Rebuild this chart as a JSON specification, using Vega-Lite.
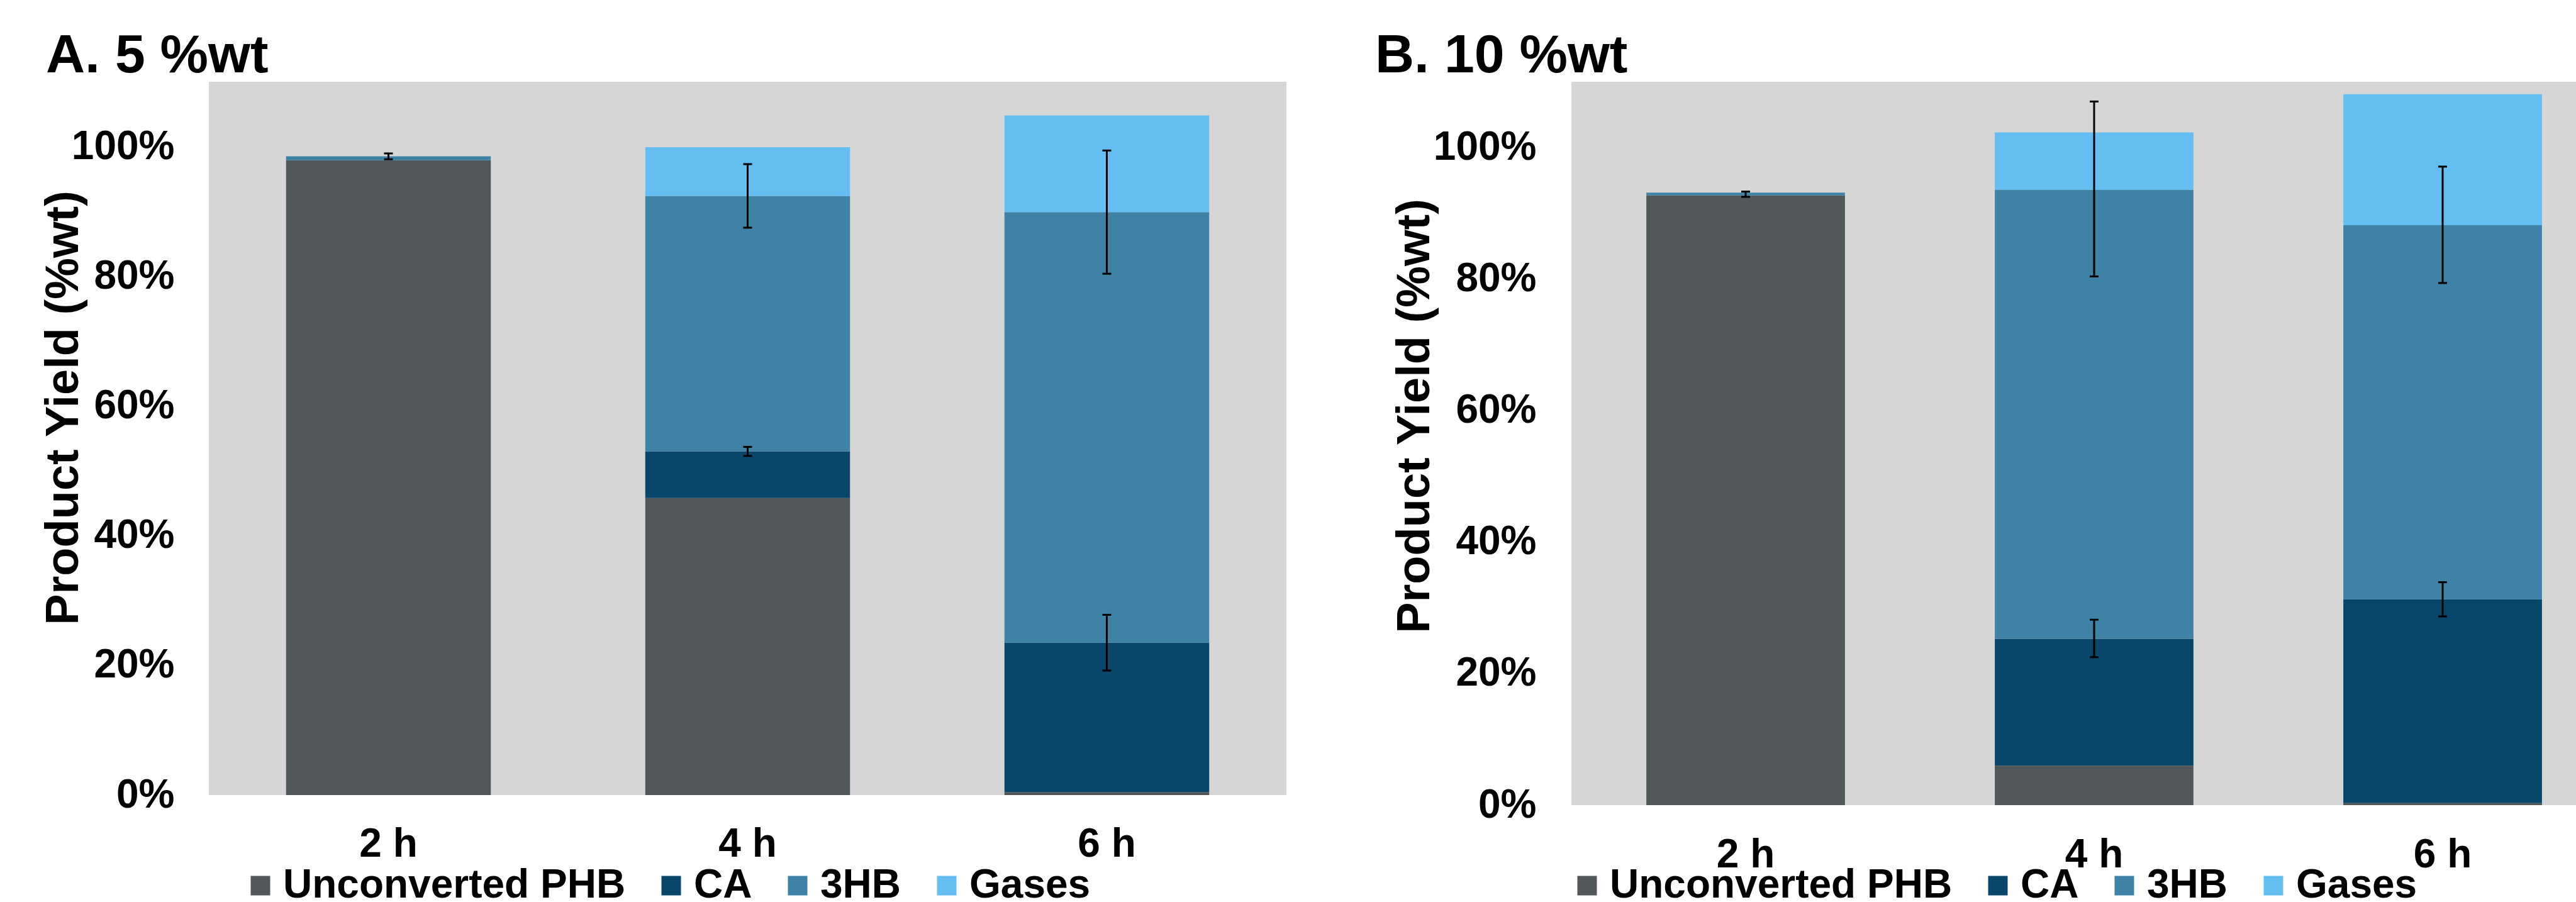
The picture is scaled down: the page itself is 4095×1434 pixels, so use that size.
{
  "$schema": "https://vega.github.io/schema/vega-lite/v6.json",
  "background": "white",
  "padding": {"left": 63, "top": 46, "right": 0, "bottom": 0},
  "bounds": "flush",
  "spacing": 453,
  "datasets": {
    "bars": [
      {"panel": "A", "time": "2 h", "series": "Unconverted PHB", "value": 0.979},
      {"panel": "A", "time": "2 h", "series": "CA", "value": 0.0},
      {"panel": "A", "time": "2 h", "series": "3HB", "value": 0.006},
      {"panel": "A", "time": "2 h", "series": "Gases", "value": 0.0},
      {"panel": "A", "time": "4 h", "series": "Unconverted PHB", "value": 0.458},
      {"panel": "A", "time": "4 h", "series": "CA", "value": 0.072},
      {"panel": "A", "time": "4 h", "series": "3HB", "value": 0.394},
      {"panel": "A", "time": "4 h", "series": "Gases", "value": 0.075},
      {"panel": "A", "time": "6 h", "series": "Unconverted PHB", "value": 0.0045},
      {"panel": "A", "time": "6 h", "series": "CA", "value": 0.2305},
      {"panel": "A", "time": "6 h", "series": "3HB", "value": 0.664},
      {"panel": "A", "time": "6 h", "series": "Gases", "value": 0.149},
      {"panel": "B", "time": "2 h", "series": "Unconverted PHB", "value": 0.927},
      {"panel": "B", "time": "2 h", "series": "CA", "value": 0.0},
      {"panel": "B", "time": "2 h", "series": "3HB", "value": 0.0045},
      {"panel": "B", "time": "2 h", "series": "Gases", "value": 0.0},
      {"panel": "B", "time": "4 h", "series": "Unconverted PHB", "value": 0.06},
      {"panel": "B", "time": "4 h", "series": "CA", "value": 0.193},
      {"panel": "B", "time": "4 h", "series": "3HB", "value": 0.683},
      {"panel": "B", "time": "4 h", "series": "Gases", "value": 0.087},
      {"panel": "B", "time": "6 h", "series": "Unconverted PHB", "value": 0.003},
      {"panel": "B", "time": "6 h", "series": "CA", "value": 0.31},
      {"panel": "B", "time": "6 h", "series": "3HB", "value": 0.569},
      {"panel": "B", "time": "6 h", "series": "Gases", "value": 0.199}
    ],
    "errs": [
      {"panel": "A", "time": "2 h", "low": 0.9805, "high": 0.9895},
      {"panel": "A", "time": "4 h", "low": 0.523, "high": 0.537},
      {"panel": "A", "time": "4 h", "low": 0.875, "high": 0.973},
      {"panel": "A", "time": "6 h", "low": 0.192, "high": 0.278},
      {"panel": "A", "time": "6 h", "low": 0.804, "high": 0.994},
      {"panel": "B", "time": "2 h", "low": 0.925, "high": 0.933},
      {"panel": "B", "time": "4 h", "low": 0.225, "high": 0.282},
      {"panel": "B", "time": "4 h", "low": 0.804, "high": 1.07},
      {"panel": "B", "time": "6 h", "low": 0.287, "high": 0.339},
      {"panel": "B", "time": "6 h", "low": 0.794, "high": 0.971}
    ]
  },
  "config": {
    "font": "Liberation Sans",
    "view": {"fill": "#d6d6d6", "stroke": null},
    "axis": {"labelColor": "black", "titleColor": "black", "labelFontWeight": "bold", "titleFontWeight": "bold", "labelFontSize": 64, "titleFontSize": 74, "ticks": false, "tickSize": 0, "domain": false, "grid": false, "labelLimit": 600, "titleLimit": 2000}
  },
  "hconcat": [
    {
      "title": {"text": "A. 5 %wt", "anchor": "start", "frame": "group", "dx": -259, "offset": -71, "baseline": "alphabetic", "fontSize": 86, "fontWeight": "bold", "color": "black"},
      "width": 1713,
      "height": 1134,
      "layer": [
        {
          "data": {"name": "bars"},
          "transform": [
            {"filter": "datum.panel == 'A'"},
            {"calculate": "indexof(['Unconverted PHB','CA','3HB','Gases'], datum.series)", "as": "ord"}
          ],
          "mark": {"type": "bar"},
          "encoding": {
            "x": {"field": "time", "type": "nominal", "sort": null, "scale": {"paddingInner": 0.43, "paddingOuter": 0.215}, "axis": {"title": null, "labelAngle": 0, "labelPadding": 46}},
            "y": {"field": "value", "type": "quantitative", "stack": "zero", "scale": {"domain": [0, 1.1], "nice": false}, "axis": {"title": "Product Yield (%wt)", "values": [0, 0.2, 0.4, 0.6, 0.8, 1.0], "format": ".0%", "labelPadding": 55, "titleX": -209, "titleY": 518, "titleBaseline": "alphabetic", "titleAngle": -90, "titleAlign": "center"}},
            "color": {"field": "series", "type": "nominal", "scale": {"domain": ["Unconverted PHB", "CA", "3HB", "Gases"], "range": ["#52575a", "#08466a", "#3e83a5", "#64bef2"]}, "legend": {"orient": "none", "legendX": 50, "legendY": 1246, "direction": "horizontal", "title": null, "symbolType": "square", "symbolSize": 961, "symbolStrokeWidth": 0, "symbolOpacity": 1, "labelFontSize": 64, "labelFontWeight": "bold", "labelColor": "black", "labelOffset": 4, "columnPadding": 40, "labelLimit": 1000}},
            "order": {"field": "ord", "type": "quantitative"}
          }
        },
        {
          "data": {"name": "errs"},
          "transform": [{"filter": "datum.panel == 'A'"}],
          "mark": {"type": "rule", "color": "black", "strokeWidth": 3},
          "encoding": {
            "x": {"field": "time", "type": "nominal", "sort": null},
            "y": {"field": "low", "type": "quantitative"},
            "y2": {"field": "high"}
          }
        },
        {
          "data": {"name": "errs"},
          "transform": [{"filter": "datum.panel == 'A'"}],
          "mark": {"type": "tick", "color": "black", "thickness": 3, "size": 14, "opacity": 1},
          "encoding": {
            "x": {"field": "time", "type": "nominal", "sort": null},
            "y": {"field": "low", "type": "quantitative"}
          }
        },
        {
          "data": {"name": "errs"},
          "transform": [{"filter": "datum.panel == 'A'"}],
          "mark": {"type": "tick", "color": "black", "thickness": 3, "size": 14, "opacity": 1},
          "encoding": {
            "x": {"field": "time", "type": "nominal", "sort": null},
            "y": {"field": "high", "type": "quantitative"}
          }
        }
      ]
    },
    {
      "title": {"text": "B. 10 %wt", "anchor": "start", "frame": "group", "dx": -312, "offset": -71, "baseline": "alphabetic", "fontSize": 86, "fontWeight": "bold", "color": "black"},
      "width": 1662,
      "height": 1150,
      "layer": [
        {
          "data": {"name": "bars"},
          "transform": [
            {"filter": "datum.panel == 'B'"},
            {"calculate": "indexof(['Unconverted PHB','CA','3HB','Gases'], datum.series)", "as": "ord"}
          ],
          "mark": {"type": "bar"},
          "encoding": {
            "x": {"field": "time", "type": "nominal", "sort": null, "scale": {"paddingInner": 0.43, "paddingOuter": 0.215}, "axis": {"title": null, "labelAngle": 0, "labelPadding": 47}},
            "y": {"field": "value", "type": "quantitative", "stack": "zero", "scale": {"domain": [0, 1.1], "nice": false}, "axis": {"title": "Product Yield (%wt)", "values": [0, 0.2, 0.4, 0.6, 0.8, 1.0], "format": ".0%", "labelPadding": 56, "titleX": -227, "titleY": 531, "titleBaseline": "alphabetic", "titleAngle": -90, "titleAlign": "center"}},
            "color": {"field": "series", "type": "nominal", "scale": {"domain": ["Unconverted PHB", "CA", "3HB", "Gases"], "range": ["#52575a", "#08466a", "#3e83a5", "#64bef2"]}, "legend": {"orient": "none", "legendX": -7, "legendY": 1246, "direction": "horizontal", "title": null, "symbolType": "square", "symbolSize": 961, "symbolStrokeWidth": 0, "symbolOpacity": 1, "labelFontSize": 64, "labelFontWeight": "bold", "labelColor": "black", "labelOffset": 4, "columnPadding": 40, "labelLimit": 1000}},
            "order": {"field": "ord", "type": "quantitative"}
          }
        },
        {
          "data": {"name": "errs"},
          "transform": [{"filter": "datum.panel == 'B'"}],
          "mark": {"type": "rule", "color": "black", "strokeWidth": 3},
          "encoding": {
            "x": {"field": "time", "type": "nominal", "sort": null},
            "y": {"field": "low", "type": "quantitative"},
            "y2": {"field": "high"}
          }
        },
        {
          "data": {"name": "errs"},
          "transform": [{"filter": "datum.panel == 'B'"}],
          "mark": {"type": "tick", "color": "black", "thickness": 3, "size": 14, "opacity": 1},
          "encoding": {
            "x": {"field": "time", "type": "nominal", "sort": null},
            "y": {"field": "low", "type": "quantitative"}
          }
        },
        {
          "data": {"name": "errs"},
          "transform": [{"filter": "datum.panel == 'B'"}],
          "mark": {"type": "tick", "color": "black", "thickness": 3, "size": 14, "opacity": 1},
          "encoding": {
            "x": {"field": "time", "type": "nominal", "sort": null},
            "y": {"field": "high", "type": "quantitative"}
          }
        }
      ]
    }
  ],
  "resolve": {"scale": {"color": "independent", "y": "independent"}, "legend": {"color": "independent"}}
}
